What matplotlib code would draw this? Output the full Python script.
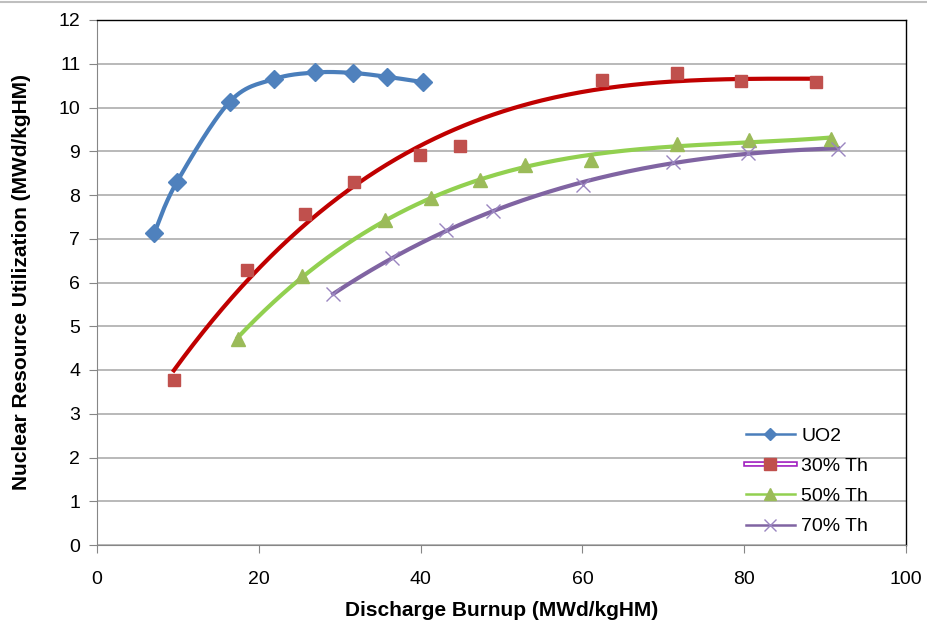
import numpy as np
import matplotlib
matplotlib.use("Agg")
import matplotlib.pyplot as plt
from matplotlib.lines import Line2D
from matplotlib.legend_handler import HandlerTuple

plt.rcParams['font.family'] = ['Liberation Sans', 'DejaVu Sans']

# ---- data ----
uo2_x = [7.1, 9.85, 16.4, 21.9, 27.0, 31.6, 35.9, 40.3]
uo2_y = [7.14, 8.29, 10.13, 10.65, 10.80, 10.79, 10.70, 10.58]

th30_x = [9.5, 18.5, 25.7, 31.8, 39.9, 44.9, 62.4, 71.7, 79.6, 88.9]
th30_y = [3.77, 6.28, 7.57, 8.29, 8.92, 9.13, 10.62, 10.79, 10.60, 10.59]

th50_x = [17.4, 25.3, 35.6, 41.3, 47.3, 52.9, 61.1, 71.7, 80.6, 90.7]
th50_y = [4.72, 6.14, 7.42, 7.93, 8.35, 8.69, 8.79, 9.16, 9.26, 9.28]

th70_x = [29.2, 36.5, 43.2, 49.0, 60.1, 71.2, 80.5, 91.6]
th70_y = [5.73, 6.56, 7.21, 7.64, 8.24, 8.76, 8.95, 9.06]

labels = ['UO2', '30% Th', '50% Th', '70% Th']
x_ticks = [0, 20, 40, 60, 80, 100]
y_ticks = list(range(0, 13))


def excel_smooth(x, y, n=30):
    """Excel-style smoothed line (Bezier with Catmull-Rom tangents)."""
    P = np.column_stack([x, y]).astype(float)
    m = len(P)
    out = []
    for i in range(m - 1):
        p0 = P[i - 1] if i > 0 else P[i]
        p1 = P[i]
        p2 = P[i + 1]
        p3 = P[i + 2] if i + 2 < m else P[i + 1]
        c1 = p1 + (p2 - p0) / 6.0
        c2 = p2 - (p3 - p1) / 6.0
        t = np.linspace(0, 1, n)[:, None]
        seg = ((1 - t) ** 3) * p1 + 3 * ((1 - t) ** 2) * t * c1 + 3 * (1 - t) * t ** 2 * c2 + t ** 3 * p2
        out.append(seg if i == 0 else seg[1:])
    S = np.vstack(out)
    return S[:, 0], S[:, 1]


def trend(x, y, deg=3):
    coef = np.polyfit(x, y, deg)
    tx = np.linspace(min(x), max(x), 200)
    return tx, np.polyval(coef, tx)


fig = plt.figure(figsize=(9.27, 6.24), dpi=100)
ax = fig.add_axes([97 / 927, 1 - 545 / 624, (906 - 97) / 927, (545 - 20) / 624])

c_blue_l, c_blue_m = '#4A7EBB', '#4F81BD'
c_red_l, c_red_m = '#C00000', '#C0504D'
c_grn_l, c_grn_m = '#92D050', '#9BBB59'
c_pur_l, c_pur_m = '#8064A2', '#9A85C0'
LW = 3.0

# UO2
sx, sy = excel_smooth(uo2_x, uo2_y)
ax.plot(sx, sy, color=c_blue_l, lw=LW, zorder=3, solid_capstyle='round')
ax.plot(uo2_x, uo2_y, ls='none', marker='D', ms=9, color=c_blue_m, zorder=4)

# 30% Th : trend line + markers
tx, ty = trend(th30_x, th30_y)
ax.plot(tx, ty, color=c_red_l, lw=LW, zorder=3)
ax.plot(th30_x, th30_y, ls='none', marker='s', ms=8.5, color=c_red_m, zorder=4)

# 50% Th
tx, ty = trend(th50_x, th50_y)
ax.plot(tx, ty, color=c_grn_l, lw=LW, zorder=3)
ax.plot(th50_x, th50_y, ls='none', marker='^', ms=10, color=c_grn_m, zorder=4)

# 70% Th
tx, ty = trend(th70_x, th70_y)
ax.plot(tx, ty, color=c_pur_l, lw=LW, zorder=3)
ax.plot(th70_x, th70_y, ls='none', marker='x', ms=10, mew=1.0, color=c_pur_m, zorder=4)

ax.set_xlim(0, 100)
ax.set_ylim(0, 12)
ax.set_xticks(x_ticks)
ax.set_yticks(y_ticks)
ax.yaxis.grid(True, color='#A6A6A6', lw=1.1)
ax.set_axisbelow(True)
ax.tick_params(axis='both', direction='out', length=6, color='#868686', labelsize=14)
ax.tick_params(axis='x', pad=13)
ax.tick_params(axis='y', pad=6)
for s in ['left', 'bottom']:
    ax.spines[s].set_color('#868686')
for s in ['top', 'right']:
    ax.spines[s].set_color('#000000')
    ax.spines[s].set_linewidth(1.0)

ax.set_xlabel('Discharge Burnup (MWd/kgHM)', fontsize=15, fontweight='bold', labelpad=9)
ax.set_ylabel('Nuclear Resource Utilization (MWd/kgHM)', fontsize=15, fontweight='bold', labelpad=20)

# legend
h1 = Line2D([], [], color=c_blue_l, lw=1.8, marker='D', ms=6, mfc=c_blue_m, mec=c_blue_m)
h2a = Line2D([], [], color='#A020C0', lw=4.0)
h2b = Line2D([], [], color='white', lw=1.6)
h2c = Line2D([], [], ls='none', marker='s', ms=9, color=c_red_m)
h3 = Line2D([], [], color=c_grn_l, lw=1.8, marker='^', ms=9, mfc=c_grn_m, mec=c_grn_m)
h4 = Line2D([], [], color=c_pur_l, lw=1.8, marker='x', ms=9, mew=1.0, mec=c_pur_m)
ax.legend([h1, (h2a, h2b, h2c), h3, h4], labels,
          handler_map={tuple: HandlerTuple(ndivide=1, pad=0)},
          loc='lower right', bbox_to_anchor=(0.975, -0.015), frameon=False,
          fontsize=14, handlelength=2.5, handletextpad=0.35, labelspacing=0.65)

fig.add_artist(Line2D([0, 1], [1 - 2 / 624, 1 - 2 / 624], color='#BFBFBF', lw=1.5))

fig.savefig('out.png', dpi=100)
